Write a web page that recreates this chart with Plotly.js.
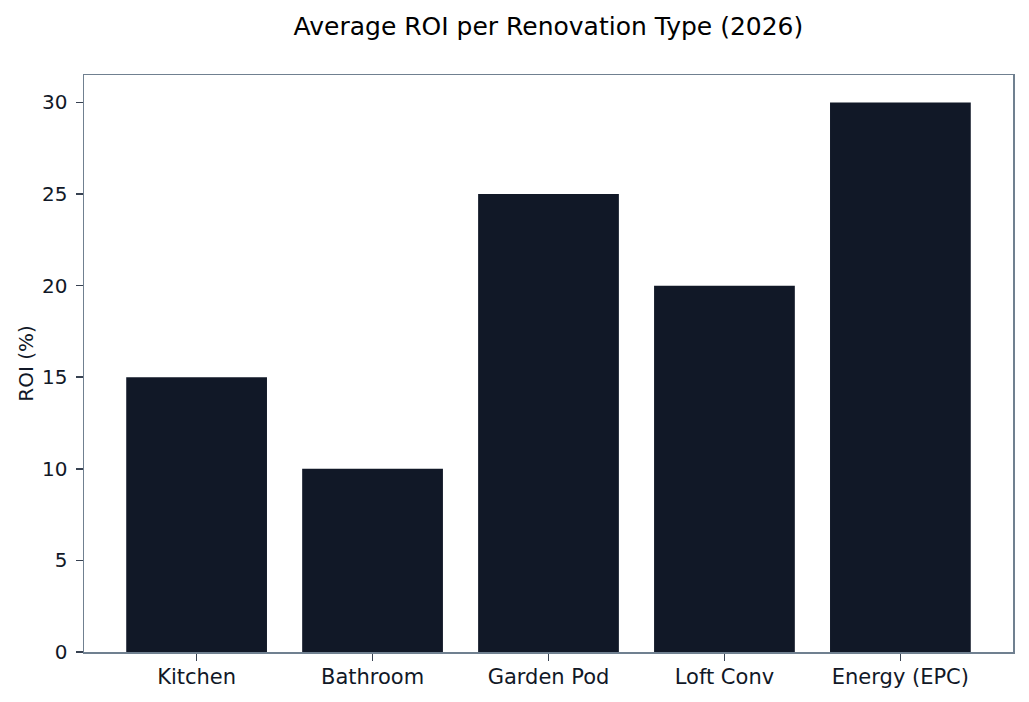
<!DOCTYPE html>
<html>
<head>
<meta charset="utf-8">
<script src="https://cdn.plot.ly/plotly-3.0.1.min.js"></script>
<style>html,body{margin:0;padding:0;background:#fff;}#chart{width:1029px;height:702px;}</style>
</head>
<body>
<div id="chart"></div>
<script>
const categories = ["Kitchen", "Bathroom", "Garden Pod", "Loft Conv", "Energy (EPC)"];
const roiValues = [15, 10, 25, 20, 30];
const yTickVals = [0, 5, 10, 15, 20, 25, 30];

const FONT = "DejaVu Sans, sans-serif";
const trace = {
  type: "bar",
  x: categories,
  y: roiValues,
  width: 0.8,
  marker: {color: "#111827", line: {width: 0}},
  hoverinfo: "x+y"
};
const layout = {
  width: 1029, height: 702,
  margin: {l: 84, r: 16, t: 75, b: 50},
  paper_bgcolor: "#ffffff", plot_bgcolor: "#ffffff",
  font: {family: FONT, size: 21, color: "#111827"},
  title: {text: "Average ROI per Renovation Type (2026)", font: {family: FONT, size: 25, color: "#000000"}, x: 0.533, xanchor: "center", y: 0.963, yanchor: "middle"},
  showlegend: false,
  bargap: 0.2,
  xaxis: {
    type: "category",
    range: [-0.64, 4.64],
    showline: true, mirror: true, linecolor: "#708090", linewidth: 1.5,
    ticks: "outside", ticklen: 7, tickwidth: 1.5, tickcolor: "#374151",
    showgrid: false, zeroline: false,
    tickfont: {family: FONT, size: 21, color: "#111827"},
    ticklabelstandoff: -2
  },
  yaxis: {
    range: [0, 31.5],
    tickvals: yTickVals,
    ticktext: yTickVals.map(String),
    showline: true, mirror: true, linecolor: "#708090", linewidth: 1.5,
    ticks: "outside", ticklen: 7, tickwidth: 1.5, tickcolor: "#374151",
    showgrid: false, zeroline: false,
    tickfont: {family: FONT, size: 20, color: "#111827"},
    ticklabelstandoff: 4,
    title: {text: "ROI (%)", font: {family: FONT, size: 20, color: "#111827"}, standoff: 3}
  }
};
Plotly.newPlot("chart", [trace], layout, {displayModeBar: false, staticPlot: true});
</script>
</body>
</html>
